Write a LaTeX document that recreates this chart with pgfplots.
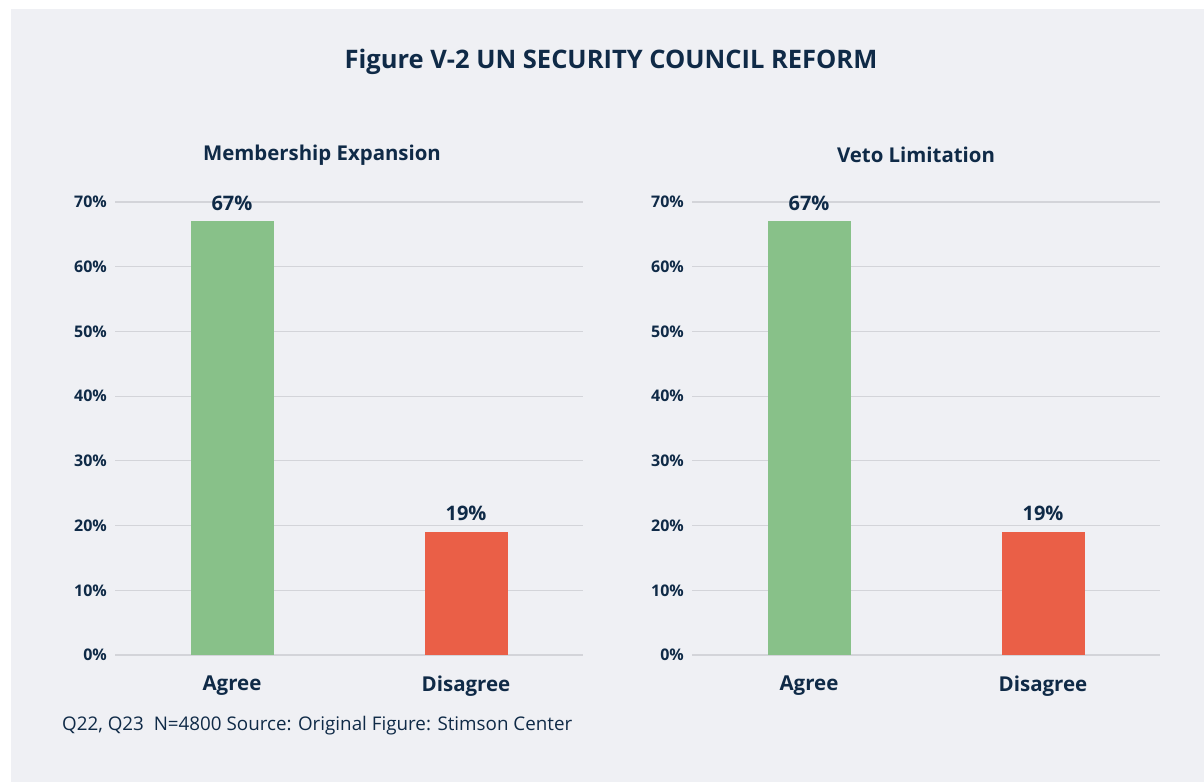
\documentclass[border=0pt]{standalone}
\usepackage{pgfplots}
\pgfplotsset{compat=1.18}
\usepackage{fontspec}
\setmainfont{Open Sans}
\definecolor{bg}{HTML}{EFF0F4}
\definecolor{txt}{HTML}{0F2A47}
\definecolor{gridc}{HTML}{D3D4D9}
\definecolor{agree}{HTML}{88C189}
\definecolor{disagree}{HTML}{EA5F47}
\pgfplotsset{
  panel/.style={
    scale only axis, width=468bp, height=453bp,
    anchor=south west,
    xmin=-0.5, xmax=1.5, ymin=0, ymax=70,
    axis line style={draw=none},
    ymajorgrids, grid style={gridc, line width=1.2bp},
    ytick={0,10,...,70},
    yticklabel={\pgfmathprintnumber{\tick}\%},
    yticklabel style={font=\fontsize{16bp}{18bp}\selectfont\bfseries, text=txt, anchor=east, inner sep=0pt, xshift=-8bp},
    xtick={0,1}, xticklabels={Agree,Disagree},
    xticklabel style={font=\fontsize{20.5bp}{22bp}\selectfont\bfseries, text=txt, anchor=north, inner sep=0pt, yshift=-21bp},
    major tick length=0pt,
    /pgf/number format/assume math mode=true,
    bar width=83bp, bar shift=0pt,
    clip=false,
    nodes near coords={\pgfmathprintnumber{\pgfplotspointmeta}\%},
    nodes near coords style={font=\fontsize{20bp}{22bp}\selectfont\bfseries, text=txt, anchor=south, inner sep=0pt, yshift=11bp},
  }
}
\begin{document}
\begin{tikzpicture}
\useasboundingbox (0bp,0bp) rectangle (1204bp,782bp);
\fill[white] (0bp,0bp) rectangle (1204bp,782bp);
\fill[bg] (11bp,0bp) rectangle (1204bp,773bp);
\node[font=\fontsize{25.5bp}{28bp}\selectfont\bfseries, text=txt] at (611bp,720bp) {Figure V-2 UN SECURITY COUNCIL REFORM};
\node[font=\fontsize{20.4bp}{22bp}\selectfont\bfseries, text=txt] at (322bp,627bp) {Membership Expansion};
\node[font=\fontsize{20.4bp}{22bp}\selectfont\bfseries, text=txt] at (916bp,627bp) {Veto Limitation};
\node[font=\fontsize{18.8bp}{20bp}\selectfont, text=txt, anchor=west, inner sep=0pt] at (62bp,56bp) {Q22, Q23\ \ N=4800 Source: Original Figure: Stimson Center};
\begin{axis}[panel, at={(115bp,127bp)}]
\addplot[ybar, fill=agree, draw=none] coordinates {(0,67)};
\addplot[ybar, fill=disagree, draw=none] coordinates {(1,19)};
\end{axis}
\begin{axis}[panel, at={(692bp,127bp)}]
\addplot[ybar, fill=agree, draw=none] coordinates {(0,67)};
\addplot[ybar, fill=disagree, draw=none] coordinates {(1,19)};
\end{axis}
\end{tikzpicture}
\end{document}
